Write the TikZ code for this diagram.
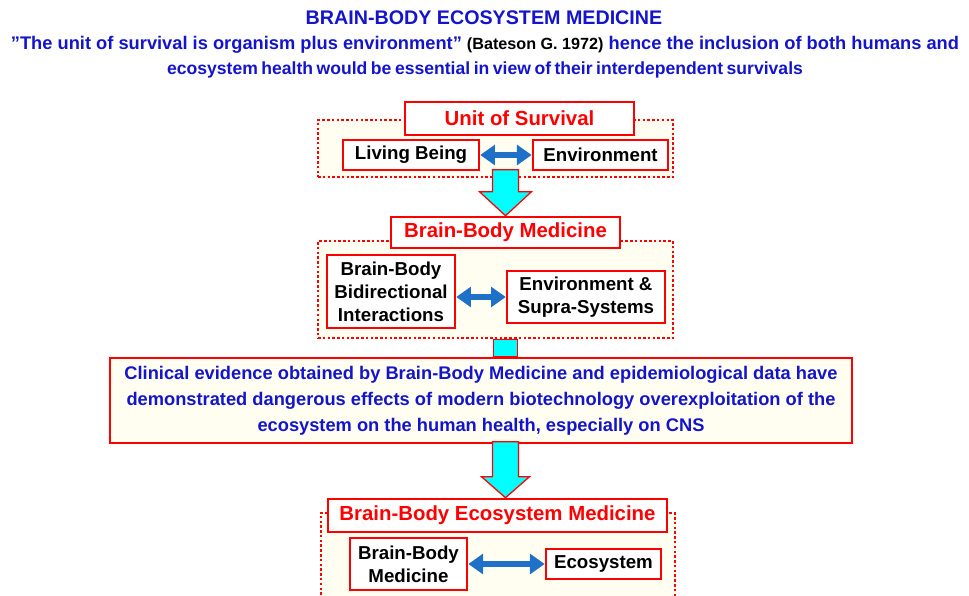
\documentclass[tikz,border=0pt]{standalone}
\usepackage{fontspec}
\setmainfont{Liberation Sans}
\usetikzlibrary{positioning,calc,fit,arrows.meta}
\definecolor{rubric}{RGB}{255,0,0}
\definecolor{inkblue}{RGB}{20,20,205}
\definecolor{arrowblue}{RGB}{30,112,200}
\definecolor{cream}{RGB}{255,254,240}
\definecolor{aqua}{RGB}{0,255,255}
\tikzset{
  hdbox/.style={draw=rubric, line width=1.7pt, fill=white, text=rubric,
    font=\fontsize{14.5}{17}\selectfont\bfseries, inner sep=0pt},
  itembox/.style={draw=rubric, line width=1.7pt, fill=white, text=black, align=center,
    font=\fontsize{13.3}{16.4}\selectfont\bfseries, inner sep=0pt},
  dotbox/.style={draw=rubric, line width=2.1pt, dash pattern=on 1.8pt off 1.6pt,
    fill=cream, inner sep=0pt},
  biarrow/.style={draw=arrowblue, line width=4pt,
    {Triangle[length=10.5pt,width=14pt]}-{Triangle[length=10.5pt,width=14pt]}},
  cyanarrow/.style={draw=rubric, line width=0.9pt, fill=aqua, line join=miter},
}
\begin{document}
\begin{tikzpicture}[x=0.025cm,y=-0.025cm]
  \useasboundingbox (0,0) rectangle (969,595);
  % heading
  \node[text=inkblue, font=\fontsize{14}{17}\selectfont\bfseries] (title) at (484,18)
    {BRAIN-BODY ECOSYSTEM MEDICINE};
  \node[text=inkblue, align=center, font=\fontsize{13}{17.8}\selectfont\bfseries] (quote) at (485,57)
    {”The unit of survival is organism plus environment” {\fontsize{11.5}{12}\selectfont\color{black}(Bateson G. 1972)} hence the inclusion of both humans and\\
     {\fontsize{12.5}{17.8}\selectfont\spaceskip=0.2em\relax ecosystem health would be essential in view of their interdependent survivals}};
  % dotted frames
  \node[dotbox, fit={(318,120) (673,177)}] (survframe) {};
  \node[dotbox, fit={(318,241) (673,338)}] (bbmframe) {};
  \node[dotbox, fit={(321,513) (675,615)}] (ecoframe) {};
  % unit of survival
  \node[hdbox, minimum width=5.73cm, minimum height=0.83cm] (unit) at (519.5,118.5) {Unit of Survival};
  \node[itembox, minimum width=3.4cm, minimum height=0.75cm] (living) at (411,155) {Living Being};
  \node[itembox, minimum width=3.38cm, minimum height=0.75cm] (envir) at (600.5,155) {Environment};
  \draw[biarrow] (living) -- (envir);
  % brain-body medicine
  \node[hdbox, minimum width=5.73cm, minimum height=0.78cm] (bbm) at (505.5,232.5) {Brain-Body Medicine};
  \node[itembox, minimum width=3.2cm, minimum height=1.83cm] (bidir) at (391,291.5)
    {Brain-Body\\Bidirectional\\Interactions};
  \node[itembox, minimum width=3.95cm, minimum height=1.3cm] (supra) at (586,297)
    {Environment \&\\Supra-Systems};
  \draw[biarrow] (bidir.east |- supra.west) -- (supra.west);
  \draw[cyanarrow] (bbm.north) -- ++(-26,-24) -- ++(13,0) -- ++(0,-22) -- ++(26,0)
    -- ++(0,22) -- ++(13,0) -- cycle;
  % clinical evidence
  \node[itembox, fill=cream, text=inkblue, font=\fontsize{13}{18.5}\selectfont\bfseries,
    minimum width=18.55cm, minimum height=2.13cm] (clin) at (481,400.5)
    {Clinical evidence obtained by Brain-Body Medicine and epidemiological data have\\
     demonstrated dangerous effects of modern biotechnology overexploitation of the\\
     ecosystem on the human health, especially on CNS};
  \draw[cyanarrow] ($(bbmframe.south -| bbm.north)+(-12,0)$) rectangle ($(clin.north -| bbm.north)+(12,0)$);
  % brain-body ecosystem medicine
  \node[hdbox, minimum width=8.48cm, minimum height=0.83cm] (ecohead) at (497.5,515.5)
    {Brain-Body Ecosystem Medicine};
  \node[itembox, minimum width=2.93cm, minimum height=1.3cm] (bbmed) at (408.5,564)
    {Brain-Body\\Medicine};
  \node[itembox, minimum width=2.88cm, minimum height=0.75cm] (eco) at (603.5,564) {Ecosystem};
  \draw[biarrow] (bbmed) -- (eco);
  \draw[cyanarrow] (ecohead.north -| bbm.north) -- ++(-24,-21) -- ++(11,0) -- ++(0,-35) -- ++(26,0)
    -- ++(0,35) -- ++(11,0) -- cycle;
\end{tikzpicture}
\end{document}
